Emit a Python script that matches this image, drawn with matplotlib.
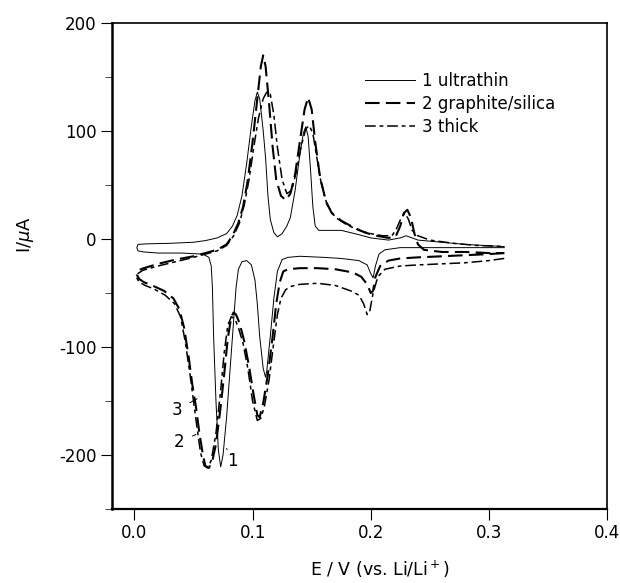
import matplotlib
matplotlib.use("Agg")
import matplotlib.pyplot as plt
from matplotlib.ticker import MultipleLocator, FuncFormatter

# ---- data (E in V, I in uA); each curve is a closed CV loop ----
# curve 1: ultrathin
c1_x = [0.313, 0.28, 0.25, 0.225, 0.212, 0.207, 0.204, 0.202, 0.200, 0.197, 0.19, 0.175, 0.16, 0.14, 0.13,
        0.125, 0.121, 0.118, 0.115, 0.112, 0.111, 0.109, 0.106, 0.104, 0.102, 0.099, 0.095, 0.091, 0.088,
        0.086, 0.084, 0.081, 0.078, 0.075, 0.073, 0.071, 0.069, 0.067, 0.066, 0.065, 0.063, 0.058, 0.04,
        0.02, 0.008, 0.003, 0.002, 0.003,
        0.01, 0.03, 0.05, 0.06, 0.07, 0.078, 0.083, 0.087, 0.091, 0.095, 0.099, 0.102, 0.104, 0.106, 0.109,
        0.111, 0.113, 0.115, 0.118, 0.121, 0.125, 0.129, 0.132, 0.136, 0.14, 0.143, 0.145, 0.147, 0.149,
        0.151, 0.153, 0.156, 0.165, 0.175, 0.19, 0.20, 0.215, 0.225, 0.23, 0.24, 0.26, 0.28, 0.313]
c1_y = [-8, -8, -8, -8, -10, -14, -25, -36, -32, -24, -20, -18, -17, -16, -17,
        -19, -30, -55, -90, -122, -128, -120, -90, -60, -38, -24, -20, -21, -28,
        -45, -75, -120, -165, -200, -211, -195, -150, -90, -45, -25, -17, -14, -13,
        -13, -12, -11, -8, -5,
        -4.5, -4, -3, -1.5, 1, 5, 12, 22, 40, 70, 105, 128, 136, 130, 100,
        75, 40, 18, 6, 2, 5, 12, 20, 45, 78, 98, 104, 95, 65,
        30, 12, 8, 8, 8, 4, 1, -1, 1, 3, -1, -3, -5, -7]

# curve 2: graphite/silica
c2_x = [0.313, 0.3, 0.28, 0.26, 0.24, 0.225, 0.215, 0.208, 0.204, 0.202, 0.200, 0.197, 0.192, 0.185, 0.17,
        0.155, 0.14, 0.13, 0.126, 0.123, 0.12, 0.117, 0.113, 0.109, 0.106, 0.104, 0.101, 0.097, 0.093,
        0.089, 0.086, 0.084, 0.082, 0.079, 0.076, 0.073, 0.069, 0.066, 0.063, 0.060, 0.058, 0.055, 0.052,
        0.049, 0.046, 0.042, 0.038, 0.033, 0.025, 0.015, 0.008, 0.004, 0.002, 0.003, 0.008,
        0.02, 0.035, 0.05, 0.06, 0.07, 0.078, 0.083, 0.088, 0.092, 0.096, 0.10, 0.104, 0.107, 0.109, 0.111,
        0.114, 0.117, 0.12, 0.124, 0.128, 0.132, 0.136, 0.14, 0.144, 0.147, 0.15, 0.153, 0.157, 0.162,
        0.167, 0.175, 0.185, 0.195, 0.205, 0.215, 0.221, 0.225, 0.228, 0.231, 0.234, 0.237, 0.24, 0.245,
        0.26, 0.28, 0.30, 0.313]
c2_y = [-13, -14, -15, -16, -17, -18, -20, -25, -35, -48, -50, -42, -35, -31, -28,
        -27, -27, -28, -30, -40, -60, -90, -125, -152, -165, -163, -145, -118, -95,
        -78, -70, -68, -72, -92, -125, -155, -190, -205, -212, -210, -200, -180, -155,
        -135, -110, -82, -65, -55, -48, -43, -40, -37, -33, -29, -27,
        -23, -19, -16, -13, -10, -5, 3, 15, 30, 55, 90, 130, 160, 170, 160,
        125, 85, 55, 40, 36, 42, 60, 90, 120, 131, 120, 90, 58, 35,
        24, 17, 11, 6, 3, 1, 2, 12, 24, 27, 20, 5, -5, -10,
        -12, -12, -13, -13]

# curve 3: thick
c3_x = [0.313, 0.3, 0.28, 0.26, 0.24, 0.225, 0.212, 0.206, 0.202, 0.199, 0.197, 0.194, 0.19, 0.183, 0.17,
        0.155, 0.14, 0.132, 0.128, 0.124, 0.121, 0.118, 0.114, 0.11, 0.107, 0.104, 0.10, 0.096, 0.092,
        0.088, 0.085, 0.082, 0.079, 0.076, 0.073, 0.069, 0.065, 0.062, 0.059, 0.056, 0.053, 0.05, 0.047,
        0.043, 0.039, 0.034, 0.026, 0.016, 0.009, 0.004, 0.002, 0.003, 0.007,
        0.02, 0.035, 0.05, 0.06, 0.07, 0.078, 0.084, 0.089, 0.093, 0.097, 0.101, 0.105, 0.109, 0.112, 0.115,
        0.118, 0.121, 0.125, 0.129, 0.133, 0.137, 0.141, 0.145, 0.148, 0.151, 0.154, 0.158, 0.163, 0.17,
        0.18, 0.19, 0.20, 0.21, 0.218, 0.222, 0.226, 0.229, 0.232, 0.235, 0.24, 0.25, 0.27, 0.29, 0.313]
c3_y = [-18, -20, -22, -23, -24, -25, -28, -35, -50, -68, -70, -60, -52, -48, -43,
        -41, -42, -44, -47, -55, -70, -95, -130, -155, -166, -168, -150, -120, -97,
        -82, -74, -72, -80, -105, -140, -180, -205, -212, -210, -198, -175, -150, -125,
        -95, -72, -60, -52, -46, -43, -40, -36, -32, -29,
        -25, -21, -17, -14, -11, -6, 3, 15, 32, 55, 85, 112, 130, 136, 134,
        115, 85, 55, 42, 45, 62, 85, 102, 105, 98, 78, 52, 32, 20,
        13, 8, 5, 3, 3, 10, 20, 24, 18, 8, 3, -1, -4, -6, -7]

labels = ["1 ultrathin", "2 graphite/silica", "3 thick"]
x_ticks = [0.0, 0.1, 0.2, 0.3, 0.4]
y_ticks = [-200, -100, 0, 100, 200]

plt.rcParams['font.family'] = ['DejaVu Sans']
fig = plt.figure(figsize=(6.2, 5.83), dpi=100)
ax = fig.add_axes([112/620, 1-509/583, (607-112)/620, (509-23)/583])

ax.plot(c1_x, c1_y, color='black', lw=0.7, ls='-', label=labels[0])
ax.plot(c2_x, c2_y, color='black', lw=1.5, dashes=(7, 3), label=labels[1])
ax.plot(c3_x, c3_y, color='black', lw=1.1, dashes=(7, 2.5, 2.5, 2.5), label=labels[2])

ax.set_xlim(-0.019, 0.4)
ax.set_ylim(-250, 200)
ax.set_xticks(x_ticks)
ax.set_yticks(y_ticks)
ax.yaxis.set_minor_locator(MultipleLocator(50))
ax.xaxis.set_major_formatter(FuncFormatter(lambda v, p: f"{v:.1f}"))
ax.yaxis.set_major_formatter(FuncFormatter(lambda v, p: f"{int(v)}"))
ax.tick_params(axis='both', which='major', direction='out', length=8, width=0.8, labelsize=12, pad=3)
ax.tick_params(axis='y', which='minor', direction='out', length=5, width=0.5)
for s in ax.spines.values():
    s.set_linewidth(1.2)
ax.spines['left'].set_linewidth(1.8)
ax.spines['bottom'].set_linewidth(1.6)

fig.text(380/620, 1-569/583, "E / V (vs. Li/Li$^+$)", fontsize=12.5, ha='center', va='center')
fig.text(25/620, 1-235/583, "I/$\\mu$A", fontsize=13, ha='center', va='center', rotation=90)

leg = ax.legend(loc='upper left', bbox_to_anchor=((365-112)/495, (509-72)/486), frameon=False,
                fontsize=12, handlelength=3.0, handletextpad=0.4, labelspacing=0.3,
                borderpad=0, borderaxespad=0)

# curve number annotations
ax.annotate("3", xy=(0.053, -148), xytext=(0.036, -158), fontsize=12, ha='center', va='center',
            arrowprops=dict(arrowstyle='-', lw=0.7, color='black', shrinkA=4, shrinkB=0))
ax.annotate("2", xy=(0.052, -181), xytext=(0.038, -188), fontsize=12, ha='center', va='center',
            arrowprops=dict(arrowstyle='-', lw=0.7, color='black', shrinkA=4, shrinkB=0))
ax.annotate("1", xy=(0.078, -194), xytext=(0.083, -206), fontsize=12, ha='center', va='center',
            arrowprops=dict(arrowstyle='-', lw=0.7, color='black', shrinkA=5, shrinkB=0))

fig.savefig("out.png", dpi=100)
